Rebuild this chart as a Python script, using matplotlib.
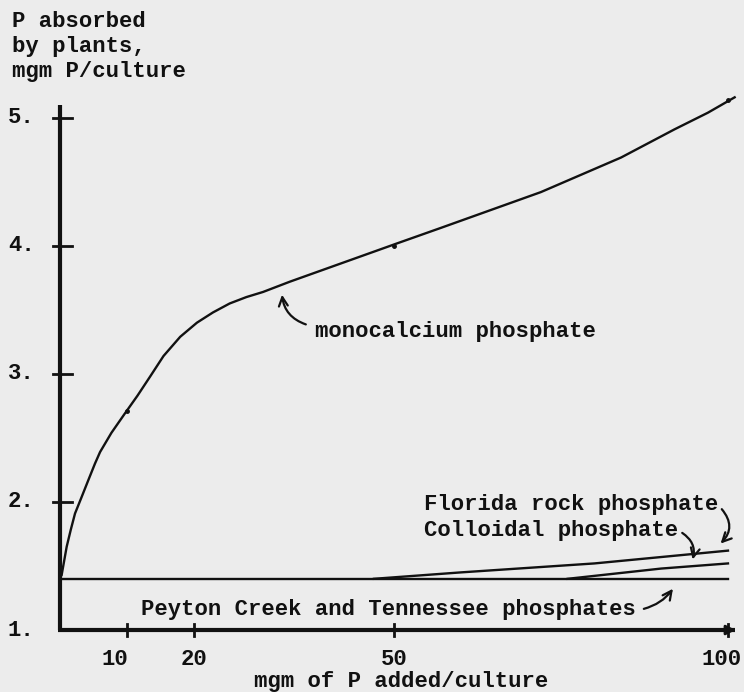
import matplotlib.pyplot as plt

# ---- data ----
mono_x = [0.25, 1.0, 1.6, 2.25, 3.25, 4.24, 5.24, 6.0, 7.7, 9.7, 11.6, 13.5, 15.5, 18.0, 20.5, 22.9,
          25.4, 27.9, 30.4, 34.4, 50.5, 57, 72, 84, 92, 97, 101]
mono_y = [1.43, 1.65, 1.78, 1.91, 2.04, 2.17, 2.30, 2.39, 2.54, 2.69, 2.83, 2.98, 3.14, 3.29, 3.40, 3.48,
          3.55, 3.60, 3.64, 3.72, 4.02, 4.14, 4.42, 4.69, 4.91, 5.04, 5.16]
mono_marks_x = [10, 50, 100]
mono_marks_y = [2.71, 4.00, 5.14]

florida_x = [47, 60, 80, 100]
florida_y = [1.40, 1.45, 1.52, 1.62]
colloidal_x = [76, 90, 95, 100]
colloidal_y = [1.40, 1.48, 1.50, 1.52]
peyton_x = [0, 100]
peyton_y = [1.40, 1.40]

x_ticks = [10, 20, 50, 100]
x_tick_labels = ["10", "20", "50", "100"]
x_label_pos = [8.2, 20.0, 50.0, 99.0]
y_ticks = [1, 2, 3, 4, 5]
y_tick_labels = ["1.", "2.", "3.", "4.", "5."]

INK = "#111111"
PAPER = "#ececec"
FONT = dict(family=["Liberation Mono", "DejaVu Sans Mono"], weight="bold", size=16, color=INK)

fig = plt.figure(figsize=(7.44, 6.92), dpi=100, facecolor=PAPER)
ax = fig.add_axes([0, 0, 1, 1])
ax.set_facecolor(PAPER)
ax.set_xlim(-8.98, 102.4)
ax.set_ylim(0.516, 5.92)
ax.axis("off")

# axes drawn by hand, like the original
ax.plot([0, 0], [1, 5.10], color=INK, lw=3, solid_capstyle="butt")
ax.plot([-0.3, 101.0], [1, 1], color=INK, lw=3, solid_capstyle="butt")
ax.annotate("", xy=(101.6, 1), xytext=(99.5, 1),
            arrowprops=dict(arrowstyle="-|>", color=INK, lw=2, mutation_scale=14))
for yt in y_ticks[1:]:
    ax.plot([-1.05, 1.8], [yt, yt], color=INK, lw=2)
for xt in x_ticks:
    ax.plot([xt, xt], [0.955, 1.045], color=INK, lw=2)

for yt, lab in zip(y_ticks, y_tick_labels):
    ax.text(-7.8, yt, lab, ha="left", va="center", **FONT)
for xp, lab in zip(x_label_pos, x_tick_labels):
    ax.text(xp, 0.766, lab, ha="center", va="center", **FONT)

ax.text(51.0, 0.60, "mgm of P added/culture", ha="center", va="center", **FONT)
for i, line in enumerate(["P absorbed", "by plants,", "mgm P/culture"]):
    ax.text(-7.2, 5.75 - 0.195 * i, line, ha="left", va="center", **FONT)

# curves
ax.plot(mono_x, mono_y, color=INK, lw=1.7)
ax.plot(mono_marks_x, mono_marks_y, ls="none", marker="o", ms=2.5, color=INK)
ax.plot(peyton_x, peyton_y, color=INK, lw=1.7)
ax.plot(florida_x, florida_y, color=INK, lw=1.7)
ax.plot(colloidal_x, colloidal_y, color=INK, lw=1.7)

# labels with hand-drawn arrows
arrow = dict(arrowstyle="->", color=INK, lw=1.6, mutation_scale=16)
ax.text(38.2, 3.33, "monocalcium phosphate", ha="left", va="center", **FONT)
ax.annotate("", xy=(33.2, 3.64), xytext=(37.2, 3.38),
            arrowprops=dict(arrow, connectionstyle="arc3,rad=-0.35"))

ax.text(54.5, 1.98, "Florida rock phosphate", ha="left", va="center", **FONT)
ax.annotate("", xy=(98.6, 1.66), xytext=(98.8, 1.96),
            arrowprops=dict(arrow, connectionstyle="arc3,rad=-0.5"))

ax.text(54.5, 1.78, "Colloidal phosphate", ha="left", va="center", **FONT)
ax.annotate("", xy=(94.6, 1.53), xytext=(92.8, 1.77),
            arrowprops=dict(arrow, connectionstyle="arc3,rad=-0.4"))

ax.text(12.1, 1.16, "Peyton Creek and Tennessee phosphates", ha="left", va="center", **FONT)
ax.annotate("", xy=(92.0, 1.34), xytext=(87.0, 1.16),
            arrowprops=dict(arrow, connectionstyle="arc3,rad=0.2"))

fig.savefig("out.png", dpi=100, facecolor=PAPER)
